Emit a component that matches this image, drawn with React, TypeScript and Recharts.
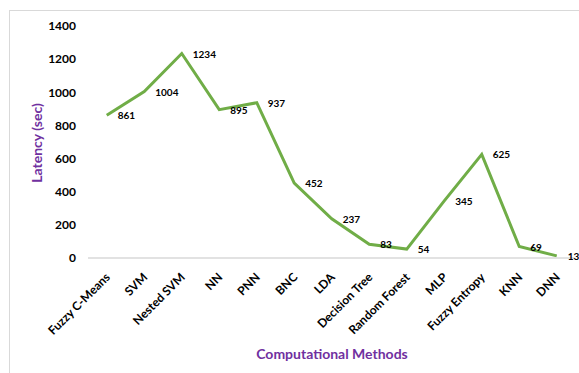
import { LineChart, Line, XAxis, YAxis, LabelList, Label } from "recharts";

const methods = [
  "Fuzzy C-Means",
  "SVM",
  "Nested SVM",
  "NN",
  "PNN",
  "BNC",
  "LDA",
  "Decision Tree",
  "Random Forest",
  "MLP",
  "Fuzzy Entropy",
  "KNN",
  "DNN",
];
const latency = [861, 1004, 1234, 895, 937, 452, 237, 83, 54, 345, 625, 69, 13];
const yTicks = [0, 200, 400, 600, 800, 1000, 1200, 1400];

const data = methods.map((name, i) => ({ name, latency: latency[i] }));

const FONT = "Lato, 'Open Sans', sans-serif";
const PURPLE = "#7030a0";

function MethodTick({ x, y, payload }: any) {
  return (
    <g transform={`translate(${x + 4},${y + 20}) rotate(-45)`}>
      <text textAnchor="end" fontFamily={FONT} fontWeight={700} fontSize={12} fill="#000">
        {payload.value}
      </text>
    </g>
  );
}

function ValueLabel({ x, y, value }: any) {
  return (
    <text x={x + 11} y={y + 4} fontFamily={FONT} fontWeight={700} fontSize={10} fill="#000">
      {value}
    </text>
  );
}

export default function App() {
  return (
    <div style={{ position: "fixed", left: 0, top: 0, width: 579, height: 373, overflow: "hidden", background: "#fff" }}>
      <div
        style={{
          position: "absolute",
          left: 9,
          top: 10,
          width: 700,
          height: 500,
          borderLeft: "1px solid #d9d9d9",
          borderTop: "1px solid #d9d9d9",
        }}
      />
      <div style={{ position: "absolute", left: 0, top: 0 }}>
        <LineChart width={579} height={373} data={data} margin={{ top: 26, right: 3.5, left: 0, bottom: 0 }}>
          <XAxis
            dataKey="name"
            interval={0}
            padding={{ left: 18.75, right: 18.75 }}
            tick={<MethodTick />}
            tickLine={false}
            tickSize={0}
            tickMargin={0}
            height={115}
            axisLine={{ stroke: "#d9d9d9", strokeWidth: 1.5 }}
          >
            <Label
              content={() => (
                <text x={332} y={359} textAnchor="middle" fontFamily={FONT} fontWeight={700} fontSize={14} fill={PURPLE}>
                  Computational Methods
                </text>
              )}
            />
          </XAxis>
          <YAxis
            domain={[0, 1400]}
            ticks={yTicks}
            width={88}
            axisLine={false}
            tickLine={false}
            tickSize={0}
            tickMargin={12}
            tick={{ fontFamily: FONT, fontWeight: 700, fontSize: 12, fill: "#000" }}
          >
            <Label
              content={() => (
                <text
                  x={0}
                  y={0}
                  transform="translate(42,143) rotate(-90)"
                  textAnchor="middle"
                  fontFamily={FONT}
                  fontWeight={700}
                  fontSize={14}
                  fill={PURPLE}
                >
                  Latency (sec)
                </text>
              )}
            />
          </YAxis>
          <Line
            type="linear"
            dataKey="latency"
            stroke="#70ad47"
            strokeWidth={3}
            dot={false}
            activeDot={false}
            isAnimationActive={false}
          >
            <LabelList dataKey="latency" content={<ValueLabel />} />
          </Line>
        </LineChart>
      </div>
    </div>
  );
}
